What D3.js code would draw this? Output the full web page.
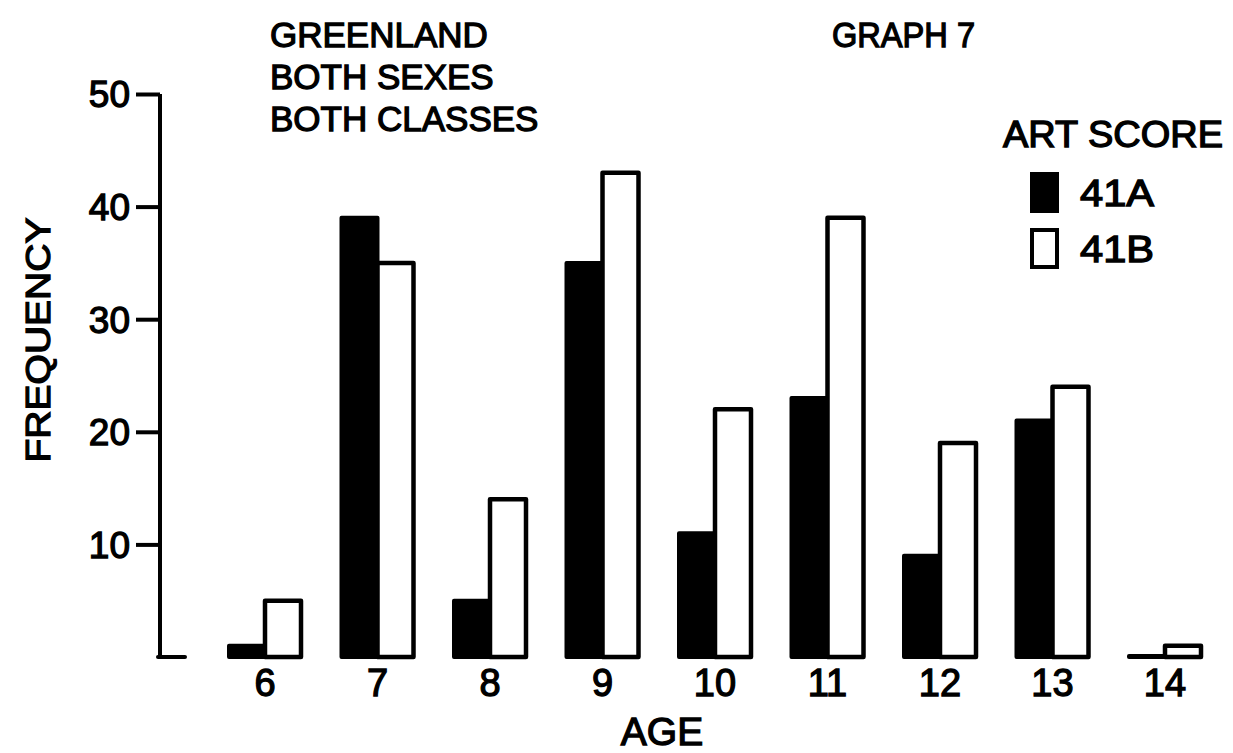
<!DOCTYPE html>
<html><head><meta charset="utf-8">
<script src="https://cdn.jsdelivr.net/npm/d3@7"></script>
<style>
html,body{margin:0;padding:0;background:#fff;}
text{font-family:"Liberation Sans",Arial,sans-serif;fill:#000;stroke:#000;stroke-width:1.3px;}
</style></head>
<body>
<svg id="chart" width="1233" height="753"></svg>
<script>
const ages = ["6","7","8","9","10","11","12","13","14"];
const score41A = [1,39,5,35,11,23,9,21,0];
const score41B = [5,35,14,43,22,39,19,24,1];
const yTicks = [10,20,30,40,50];
const titleLines = ["GREENLAND","BOTH SEXES","BOTH CLASSES"];
const graphLabel = "GRAPH 7";
const legendTitle = "ART SCORE";
const seriesNames = ["41A","41B"];

const svg = d3.select("#chart");
const x = d3.scaleBand().domain(ages).range([208.75,1221.25]).paddingInner(0.36).paddingOuter(0.18);
const y = d3.scaleLinear().domain([0,50]).range([657,94]);
const bw = x.bandwidth()/2;

// bars
const g = svg.append("g");
g.selectAll("rect.a").data(ages).enter().append("rect")
  .attr("x", d=>x(d)).attr("y", (d,i)=>Math.min(y(score41A[i]), y(0)-1))
  .attr("width", bw).attr("height", (d,i)=>Math.max(y(0)-y(score41A[i]),1))
  .attr("fill","#000").attr("stroke","#000").attr("stroke-width",4).attr("stroke-linejoin","round");
g.selectAll("rect.b").data(ages).enter().append("rect")
  .attr("x", d=>x(d)+bw).attr("y", (d,i)=>y(score41B[i]))
  .attr("width", bw).attr("height", (d,i)=>y(0)-y(score41B[i]))
  .attr("fill","#fff").attr("stroke","#000").attr("stroke-width",4.5).attr("stroke-linejoin","round");

// y axis
const ya = svg.append("g").attr("transform","translate(160,0)")
  .call(d3.axisLeft(y).tickValues(yTicks).tickSize(24).tickPadding(6).tickFormat(d3.format("d")));
ya.select(".domain").remove();
ya.selectAll(".tick line").attr("stroke","#000").attr("stroke-width",4);
ya.selectAll(".tick text").attr("font-size",37).attr("dy","0.35em");
svg.append("line").attr("x1",160).attr("x2",160).attr("y1",y(50)).attr("y2",y(0)).attr("stroke","#000").attr("stroke-width",4);
svg.append("line").attr("x1",158).attr("x2",185).attr("y1",y(0)).attr("y2",y(0)).attr("stroke","#000").attr("stroke-width",4).attr("stroke-linecap","round");

// x axis
const xa = svg.append("g").attr("transform","translate(0,"+y(0)+")")
  .call(d3.axisBottom(x).tickSize(0).tickPadding(12));
xa.select(".domain").remove();
xa.selectAll(".tick text").attr("font-size",38).attr("dy","0.71em");

// axis titles
svg.append("text").attr("x",662).attr("y",745).attr("text-anchor","middle").attr("font-size",39).text("AGE");
svg.append("text").attr("transform","translate(50,340) rotate(-90)").attr("text-anchor","middle").attr("font-size",35)
  .attr("textLength",245).attr("lengthAdjust","spacingAndGlyphs").text("FREQUENCY");

// title block
svg.selectAll("text.title").data(titleLines).enter().append("text")
  .attr("x",270).attr("y",(d,i)=>47+i*42).attr("font-size",35).text(d=>d);
svg.append("text").attr("x",832).attr("y",47).attr("font-size",35)
  .attr("textLength",143).attr("lengthAdjust","spacingAndGlyphs").text(graphLabel);

// legend
svg.append("text").attr("x",1003).attr("y",147).attr("font-size",36)
  .attr("textLength",220).attr("lengthAdjust","spacingAndGlyphs").text(legendTitle);
const leg = svg.selectAll("g.leg").data(seriesNames).enter().append("g").attr("transform",(d,i)=>"translate(1032,"+(174+i*56)+")");
leg.append("rect").attr("width",25).attr("height",37)
  .attr("fill",(d,i)=>i===0?"#000":"#fff").attr("stroke","#000").attr("stroke-width",4);
leg.append("text").attr("x",48).attr("y",32).attr("font-size",36)
  .attr("textLength",74).attr("lengthAdjust","spacingAndGlyphs").text(d=>d);
</script>
</body></html>
